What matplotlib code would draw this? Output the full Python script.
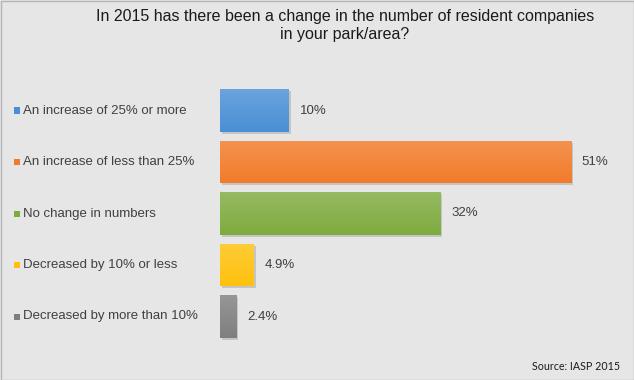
import matplotlib
matplotlib.use("Agg")
import matplotlib.pyplot as plt
import numpy as np
from matplotlib.patches import Rectangle
from matplotlib.colors import to_rgb

categories = ["An increase of 25% or more", "An increase of less than 25%",
              "No change in numbers", "Decreased by 10% or less",
              "Decreased by more than 10%"]
values = [10, 51, 32, 4.9, 2.4]
value_labels = ["10%", "51%", "32%", "4.9%", "2.4%"]
colors = ["#4a8fd5", "#f27b2a", "#7eab3f", "#fec10d", "#7f7f7f"]
title_lines = ["In 2015 has there been a change in the number of resident companies",
               "in your park/area?"]
source = "Source: IASP 2015"

plt.rcParams['font.family'] = ['Liberation Sans', 'DejaVu Sans']
W, H = 634, 380
bg = "#e6e6e6"
fig = plt.figure(figsize=(W/100, H/100), dpi=100, facecolor=bg)

ax_left, ax_right = 219.5, 620
px_per_unit = (570.7 - 219.5) / 51
ax_top, ax_bot = 110.5 - 25.75, 316.5 + 25.75
ax = fig.add_axes([ax_left/W, 1 - ax_bot/H, (ax_right-ax_left)/W, (ax_bot-ax_top)/H])
ax.set_facecolor(bg)
ax.set_xlim(0, (ax_right-ax_left)/px_per_unit)
ax.set_ylim(len(values)-0.5, -0.5)
ax.axis('off')

ypos = list(range(len(values)))
ax.barh([y + 0.04 for y in ypos], values, height=0.82, left=0.35,
        color="#b0b0b0", alpha=0.6, zorder=1)
bars = ax.barh(ypos, values, height=0.82, color=colors, zorder=2)
# vertical gradient overlay (lighter top)
for b, c in zip(bars, colors):
    base = np.array(to_rgb(c))
    light = base + (1 - base) * 0.18
    t = np.linspace(0, 1, 64)[:, None]
    grad = (light[None, :] * (1 - t) + base[None, :] * t)[:, None, :]
    bb = b.get_bbox()
    im = ax.imshow(grad, extent=[bb.x0, bb.x1, bb.y1, bb.y0], aspect='auto',
                   zorder=3, origin='upper')
    im.set_clip_path(b)
for y, v, lab in zip(ypos, values, value_labels):
    ax.annotate(lab, (v, y), xytext=(8, 0), textcoords='offset points',
                ha='left', va='center', fontsize=9.5, color='#404040', zorder=4)
ax.set_xlim(0, (ax_right-ax_left)/px_per_unit)
ax.set_ylim(len(values)-0.5, -0.5)

for y, cat, c in zip(ypos, categories, colors):
    yc = 1 - (ax_top + (y + 0.5) * (ax_bot-ax_top)/len(values)) / H
    fig.patches.append(Rectangle((14/W, yc - 3/H), 6/W, 6/H, transform=fig.transFigure,
                                 facecolor=c, edgecolor='none'))
    fig.text(23/W, yc, cat, ha='left', va='center', fontsize=9.5, color='#404040')

fig.text(345/W, 1 - 17/H, title_lines[0], ha='center', va='center', fontsize=11.5, color='#1a1a1a')
fig.text(345/W, 1 - 34/H, title_lines[1], ha='center', va='center', fontsize=11.5, color='#1a1a1a')
fig.text(620/W, 1 - 366/H, source, ha='right', va='center', fontsize=7.7,
         family=['Lato', 'DejaVu Sans'], color='#1a1a1a')

fig.patches.append(Rectangle((0.5/W, 0.5/H), 1 - 1/W, 1 - 1/H, transform=fig.transFigure,
                             facecolor='none', edgecolor='#b5b5b5', linewidth=1))
fig.savefig("out.png", dpi=100, facecolor=bg)
